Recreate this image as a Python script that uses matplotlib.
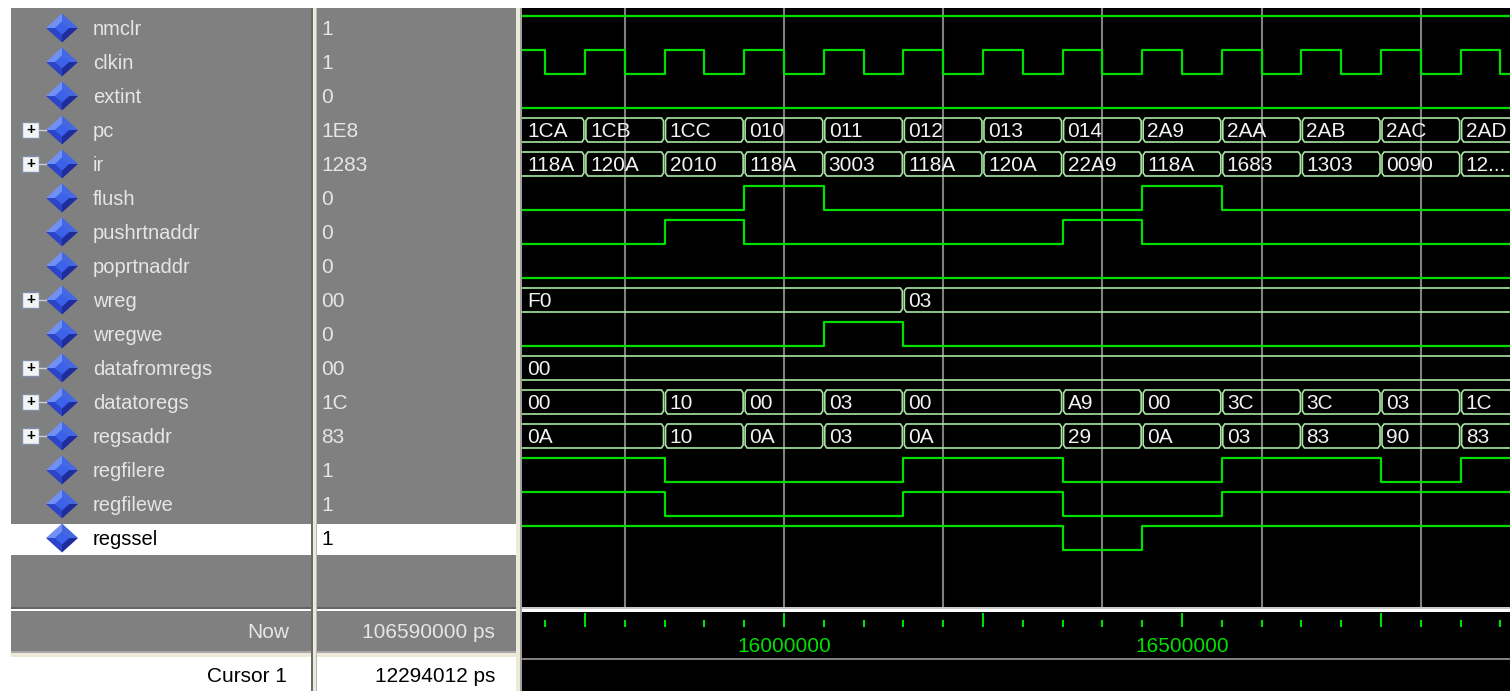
import matplotlib
matplotlib.use('Agg')
import matplotlib.pyplot as plt
from matplotlib.patches import Rectangle, Polygon
from matplotlib.ticker import MultipleLocator, FuncFormatter

plt.rcParams['font.family'] = ['Liberation Sans', 'DejaVu Sans']

W, H = 1510, 691

# signal list, top to bottom, with the value column
names = ['nmclr', 'clkin', 'extint', 'pc', 'ir', 'flush', 'pushrtnaddr', 'poprtnaddr',
         'wreg', 'wregwe', 'datafromregs', 'datatoregs', 'regsaddr', 'regfilere',
         'regfilewe', 'regssel']
cur_values = ['1', '1', '0', '1E8', '1283', '0', '0', '0', '00', '0', '00', '1C', '83',
              '1', '1', '1']
expandable = ['pc', 'ir', 'wreg', 'datafromregs', 'datatoregs', 'regsaddr']
selected = 'regssel'

now_text = '106590000 ps'
cursor_text = '12294012 ps'

# visible window (ps)
t_view = (15671000, 16912000)
t_last = 17000000

# single-bit signals: change times (ps) / levels
nmclr_t = [15600000]
nmclr_v = [1]
clkin_t = [15650000, 15700000, 15750000, 15800000, 15850000, 15900000, 15950000,
           16000000, 16050000, 16100000, 16150000, 16200000, 16250000, 16300000,
           16350000, 16400000, 16450000, 16500000, 16550000, 16600000, 16650000,
           16700000, 16750000, 16800000, 16850000, 16900000]
clkin_v = [1, 0, 1, 0, 1, 0, 1, 0, 1, 0, 1, 0, 1, 0, 1, 0, 1, 0, 1, 0, 1, 0, 1, 0, 1, 0]
extint_t = [15600000]
extint_v = [0]
flush_t = [15600000, 15950000, 16050000, 16450000, 16550000]
flush_v = [0, 1, 0, 1, 0]
pushrtnaddr_t = [15600000, 15850000, 15950000, 16350000, 16450000]
pushrtnaddr_v = [0, 1, 0, 1, 0]
poprtnaddr_t = [15600000]
poprtnaddr_v = [0]
wregwe_t = [15600000, 16050000, 16150000]
wregwe_v = [0, 1, 0]
regfilere_t = [15600000, 15850000, 16150000, 16350000, 16550000, 16750000, 16850000]
regfilere_v = [1, 0, 1, 0, 1, 0, 1]
regfilewe_t = [15600000, 15850000, 16150000, 16350000, 16550000]
regfilewe_v = [1, 0, 1, 0, 1]
regssel_t = [15600000, 16350000, 16450000]
regssel_v = [1, 0, 1]

# buses: change times (ps) / hex values
pc_t = [15600000, 15750000, 15850000, 15950000, 16050000, 16150000, 16250000,
        16350000, 16450000, 16550000, 16650000, 16750000, 16850000]
pc_v = ['1CA', '1CB', '1CC', '010', '011', '012', '013', '014', '2A9', '2AA', '2AB',
        '2AC', '2AD']
ir_t = pc_t
ir_v = ['118A', '120A', '2010', '118A', '3003', '118A', '120A', '22A9', '118A', '1683',
        '1303', '0090', '1283']
wreg_t = [15600000, 16150000]
wreg_v = ['F0', '03']
datafromregs_t = [15600000]
datafromregs_v = ['00']
datatoregs_t = [15600000, 15850000, 15950000, 16050000, 16150000, 16350000, 16450000,
                16550000, 16650000, 16750000, 16850000]
datatoregs_v = ['00', '10', '00', '03', '00', 'A9', '00', '3C', '3C', '03', '1C']
regsaddr_t = datatoregs_t
regsaddr_v = ['0A', '10', '0A', '03', '0A', '29', '0A', '03', '83', '90', '83']

tracks = [
    ('bit', nmclr_t, nmclr_v), ('bit', clkin_t, clkin_v), ('bit', extint_t, extint_v),
    ('bus', pc_t, pc_v), ('bus', ir_t, ir_v), ('bit', flush_t, flush_v),
    ('bit', pushrtnaddr_t, pushrtnaddr_v), ('bit', poprtnaddr_t, poprtnaddr_v),
    ('bus', wreg_t, wreg_v), ('bit', wregwe_t, wregwe_v),
    ('bus', datafromregs_t, datafromregs_v), ('bus', datatoregs_t, datatoregs_v),
    ('bus', regsaddr_t, regsaddr_v), ('bit', regfilere_t, regfilere_v),
    ('bit', regfilewe_t, regfilewe_v), ('bit', regssel_t, regssel_v),
]

GRAY = '#808080'
BEIGE = '#ece9d8'
GREEN = '#00e000'
BUS = '#a6e6a0'
TXT = '#e6e6e6'
FS = 15

ROW_PX = 34.0
ROW0 = 28.0
PANE_TOP, PANE_BOT = 8, 607
row_lim = ((PANE_BOT - ROW0) / ROW_PX, (PANE_TOP - ROW0) / ROW_PX)
half = 12 / ROW_PX


def px_axes(x0, y0, x1, y1, **kw):
    return fig.add_axes([x0 / W, 1 - y1 / H, (x1 - x0) / W, (y1 - y0) / H], **kw)


fig = plt.figure(figsize=(W / 100, H / 100), dpi=100, facecolor='white')

# window chrome
bg = px_axes(0, 0, W, H)
bg.set_xlim(0, W)
bg.set_ylim(H, 0)
bg.axis('off')


def box(x0, y0, x1, y1, c):
    bg.add_patch(Rectangle((x0, y0), x1 - x0, y1 - y0, color=c, lw=0))


for xa, xb in [(11, 311), (317, 516)]:
    box(xa, 8, xb, 607, GRAY)
    box(xa, 524, xb, 555, 'white')
    box(xa, 607, xb, 609, '#646464')
    box(xa, 609, xb, 611, 'white')
    box(xa, 611, xb, 651, GRAY)
    box(xa, 651, xb, 653, '#a8a8a8')
    box(xa, 653, xb, 657, BEIGE)
box(311, 8, 313, H, '#6a6a6a')
box(313, 8, 316, H, BEIGE)
box(316, 8, 317, H, '#b8b8b8')
box(516, 8, 520, H, BEIGE)
box(520, 8, 522, H, '#a0a0a0')
box(522, 8, W, 607, 'black')
box(522, 607, W, 609, '#c8c8c8')
box(522, 609, W, 612, 'white')
box(522, 612, W, 658, 'black')
box(522, 658, W, 660, GRAY)
box(522, 660, W, H, 'black')

bg.text(289, 633, 'Now', ha='right', va='center', fontsize=FS, color=TXT)
bg.text(495, 633, now_text, ha='right', va='center', fontsize=FS, color=TXT)
bg.text(287, 676, 'Cursor 1', ha='right', va='center', fontsize=FS, color='black')
bg.text(495, 676, cursor_text, ha='right', va='center', fontsize=FS, color='black')

# signal names with icons
nm = px_axes(11, PANE_TOP, 311, PANE_BOT)
nm.set_xlim(0, 300)
nm.set_ylim(*row_lim)
nm.axis('off')
val = px_axes(317, PANE_TOP, 516, PANE_BOT)
val.set_xlim(0, 199)
val.set_ylim(*row_lim)
val.axis('off')

dx, dy = 16, 14.5 / ROW_PX
cx = 51
for i, name in enumerate(names):
    col = 'black' if name == selected else TXT
    tl, tp, rt, bt = (cx - dx, i), (cx, i - dy), (cx + dx, i), (cx, i + dy)
    c = (cx, i)
    for pts, fc in [((tl, tp, c), '#7090f4'), ((tp, rt, c), '#4468e4'),
                    ((tl, bt, c), '#2c44c8'), ((bt, rt, c), '#1e2c9c')]:
        nm.add_patch(Polygon(pts, closed=True, fc=fc, ec='none'))
    s = 0.45
    nm.add_patch(Polygon([(cx - dx * s, i), (cx, i - dy * s), (cx + dx * s, i), (cx, i + dy * s)],
                         closed=True, fc='#3b62e8', ec='none'))
    if name in expandable:
        nm.plot([28, cx - dx], [i, i], color='#d0d0d0', lw=1)
        nm.add_patch(Rectangle((11, i - 8 / ROW_PX), 17, 16 / ROW_PX, fc='#f4f4f4',
                               ec='#7f8fa6', lw=1))
        nm.text(19.5, i + 0.01, '+', ha='center', va='center', fontsize=11,
                fontweight='bold', color='black')
    nm.text(82, i + 0.03, name, ha='left', va='center', fontsize=FS - 0.5, color=col)
    val.text(4.5, i + 0.03, cur_values[i], ha='left', va='center', fontsize=FS, color=col)

# waveforms
ax = px_axes(522, PANE_TOP, W, PANE_BOT)
ax.set_facecolor('black')
ax.set_xlim(*t_view)
ax.set_ylim(*row_lim)
for sp in ax.spines.values():
    sp.set_visible(False)
ax.xaxis.set_major_locator(MultipleLocator(200000))
ax.tick_params(length=0, labelbottom=False, labelleft=False)
ax.set_yticks([])
ax.grid(axis='x', color=GRAY, lw=1.5)
ax.set_axisbelow(True)

ps_px = (t_view[1] - t_view[0]) / (W - 522)
renderer = fig.canvas.get_renderer()

for row, (kind, ts, vs) in enumerate(tracks):
    if kind == 'bit':
        lv = [row + half if v == 0 else row - half for v in vs]
        ax.step(ts + [t_last], lv + [lv[-1]], where='post', color=GREEN, lw=1.6)
        continue
    ends = ts[1:] + [t_last]
    for ta, tb, label in zip(ts, ends, vs):
        L, R = ta + 1 * ps_px, tb - 1 * ps_px
        bx, by = 2 * ps_px, 3 / ROW_PX
        top, bot = row - half, row + half
        pts = [(L + bx, top), (R - bx, top), (R, top + by), (R, bot - by), (R - bx, bot),
               (L + bx, bot), (L, bot - by), (L, top + by)]
        ax.add_patch(Polygon(pts, closed=True, fc='none', ec=BUS, lw=1.2))
        x0 = max(ta, t_view[0]) + 5 * ps_px
        room = (min(tb, t_view[1]) - x0) / ps_px - 3
        t = ax.text(x0, row + 0.04, label, ha='left', va='center', fontsize=FS,
                    color='#f2f2f2', clip_on=True)
        if t.get_window_extent(renderer).width > room:
            txt = label
            while txt and t.get_window_extent(renderer).width > room:
                txt = txt[:-1]
                t.set_text(txt + '...')

# time ruler
tr = px_axes(522, 612, W, 627)
tr.set_facecolor('black')
tr.set_xlim(*t_view)
tr.set_yticks([])
for sp in tr.spines.values():
    sp.set_visible(False)
tr.xaxis.set_major_locator(MultipleLocator(250000))
tr.xaxis.set_minor_locator(MultipleLocator(50000))
tr.xaxis.set_major_formatter(FuncFormatter(lambda x, p: f'{int(round(x))}' if round(x) % 500000 == 0 else ''))
tr.tick_params(axis='x', which='major', direction='in', length=10, width=1.5, color=GREEN,
               labelsize=FS, labelcolor=GREEN, pad=7.5)
tr.tick_params(axis='x', which='minor', direction='in', length=5, width=1.5, color=GREEN)

fig.savefig('out.png', dpi=100, facecolor='white')
